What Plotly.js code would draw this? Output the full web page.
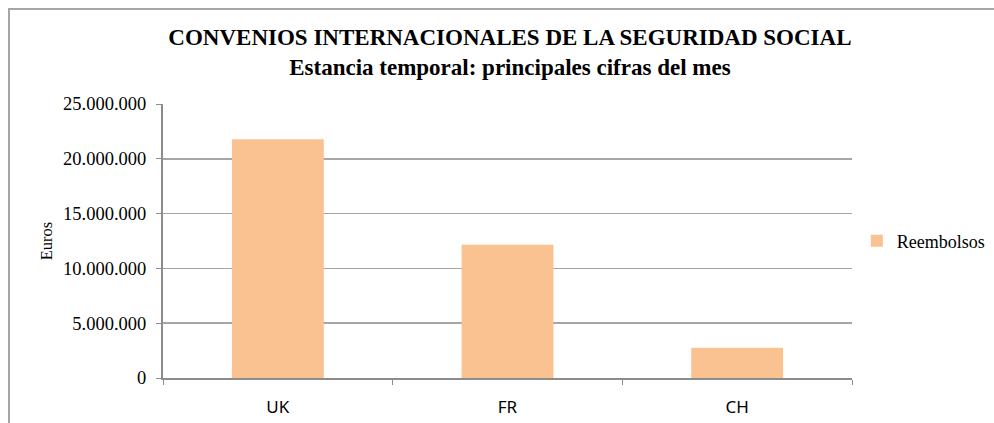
<!DOCTYPE html>
<html>
<head>
<meta charset="utf-8">
<script src="https://cdn.plot.ly/plotly-3.0.1.min.js"></script>
<style>
  html, body { margin: 0; padding: 0; background: #fff; }
  #wrap { position: relative; width: 994px; height: 423px; overflow: hidden; }
  #chart { position: absolute; left: 0; top: 0; width: 994px; height: 423px; }
  #frame { position: absolute; left: 8px; top: 8px; width: 1000px; height: 430px;
           border-left: 2px solid #a6a6a6; border-top: 2px solid #a6a6a6; pointer-events: none; }
</style>
</head>
<body>
<div id="wrap">
  <div id="chart"></div>
  <div id="frame"></div>
</div>
<script>
const categories = ["UK", "FR", "CH"];
const reembolsos = [21780000, 12150000, 2760000];
const yTickVals = [0, 5000000, 10000000, 15000000, 20000000, 25000000];
const yTickText = ["0", "5.000.000", "10.000.000", "15.000.000", "20.000.000", "25.000.000"];
const seriesName = "Reembolsos";
const titleLine1 = "CONVENIOS INTERNACIONALES DE LA SEGURIDAD SOCIAL";
const titleLine2 = "Estancia temporal: principales cifras del mes";

const serif = "Liberation Serif";

const data = [{
  type: "bar",
  x: categories,
  y: reembolsos,
  name: seriesName,
  marker: { color: "#fac290" },
  showlegend: true,
  hoverinfo: "none"
}];

const layout = {
  width: 994,
  height: 423,
  margin: { l: 163, r: 142, t: 103.5, b: 44.5, pad: 0, autoexpand: false },
  paper_bgcolor: "#ffffff",
  plot_bgcolor: "#ffffff",
  bargap: 0.6,
  title: {
    text: "<b>" + titleLine1 + "</b><br><b>" + titleLine2 + "</b>",
    font: { family: serif, size: 23, color: "#000" },
    x: 0.513, xanchor: "center",
    y: 0.8945, yanchor: "middle", yref: "container"
  },
  xaxis: {
    type: "category",
    range: [-0.5, 2.5],
    showgrid: false,
    showline: true, linecolor: "#8c8c8c", linewidth: 2,
    ticks: "outside", tickson: "boundaries", ticklen: 5, tickcolor: "#8c8c8c", tickwidth: 1,
    ticklabelstandoff: 13,
    tickfont: { family: "Noto Sans", size: 17, color: "#000" },
    fixedrange: true
  },
  yaxis: {
    range: [0, 25000000],
    tickvals: yTickVals,
    ticktext: yTickText,
    showgrid: true, gridcolor: "#a6a6a6", gridwidth: 1.5,
    zeroline: false,
    showline: true, linecolor: "#8c8c8c", linewidth: 2,
    ticks: "outside", ticklen: 5, tickcolor: "#8c8c8c", tickwidth: 1,
    ticklabelstandoff: 6,
    tickfont: { family: serif, size: 18.5, color: "#000" },
    title: { text: "Euros", font: { family: serif, size: 16.5, color: "#000" }, standoff: 6 },
    fixedrange: true
  },
  legend: {
    xref: "container", yref: "paper",
    x: 0.862, xanchor: "left",
    y: 0.5, yanchor: "middle",
    font: { family: serif, size: 18, color: "#000" },
    itemwidth: 30,
    bgcolor: "rgba(0,0,0,0)"
  },
  showlegend: true
};

Plotly.newPlot("chart", data, layout, { staticPlot: true, displayModeBar: false });
</script>
</body>
</html>
